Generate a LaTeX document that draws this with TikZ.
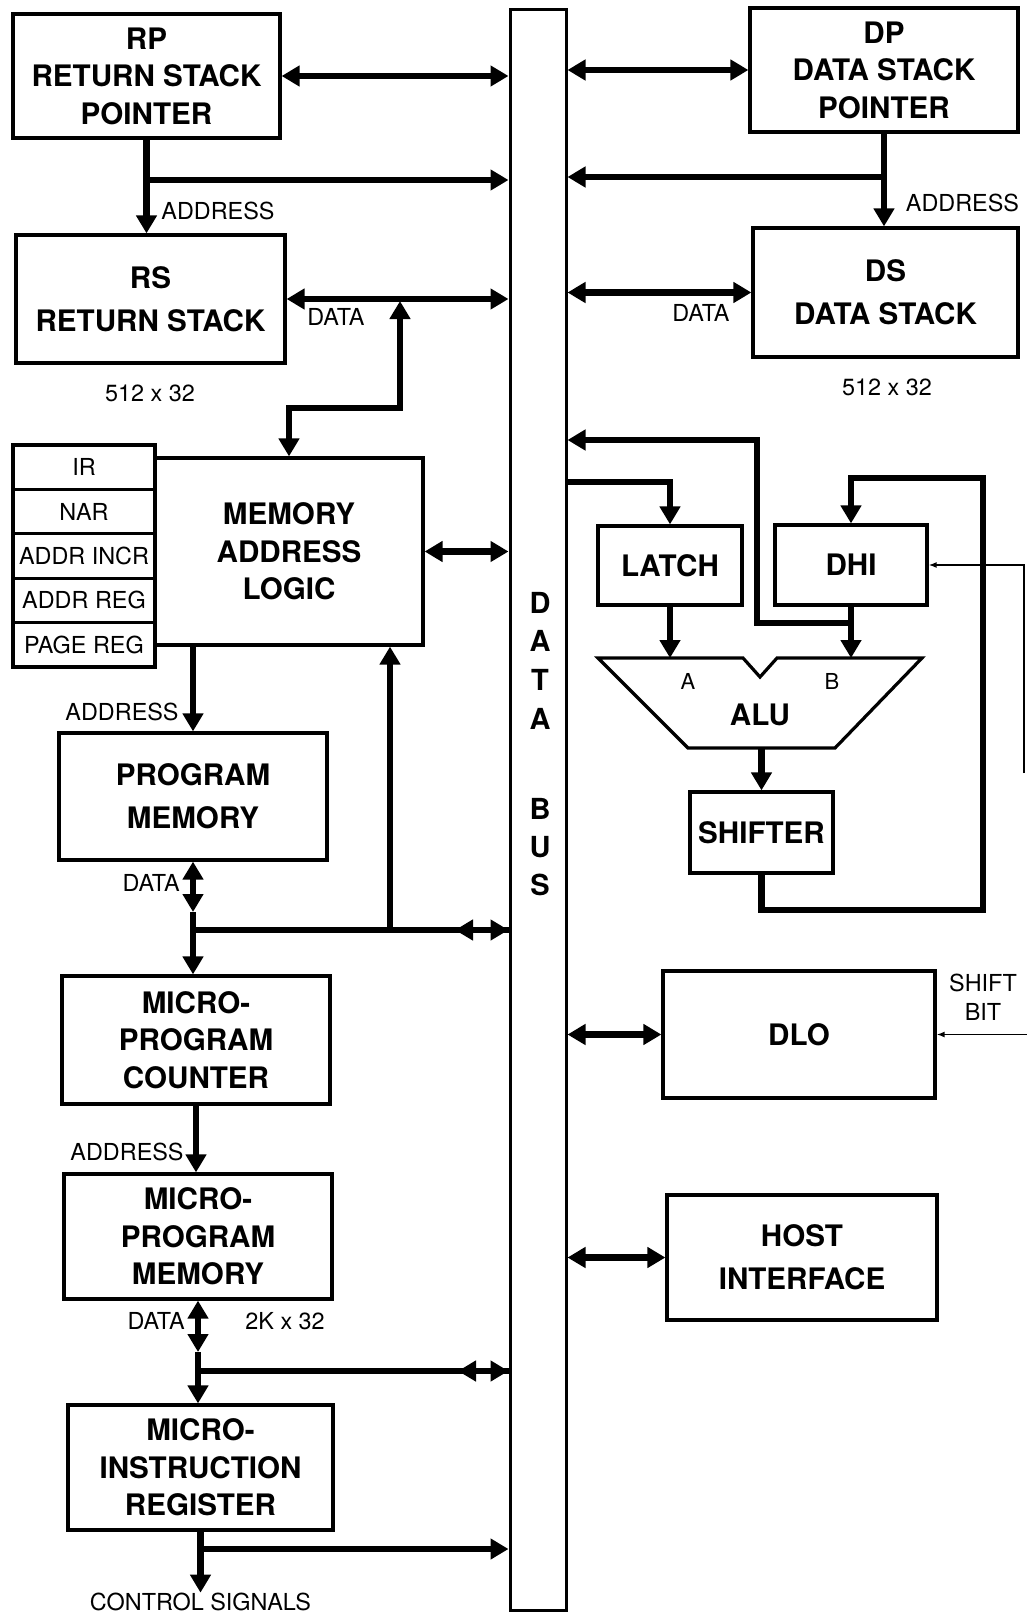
\documentclass[tikz,border=0pt]{standalone}
\usepackage{fontspec}
\setmainfont{TeX Gyre Heros}
\usetikzlibrary{arrows.meta,calc}
\begin{document}
\begin{tikzpicture}[x=0.5pt,y=-0.5pt,
  >={Triangle[length=9pt,width=10pt]},
  blk/.style={draw,line width=1.6pt,inner sep=0pt,align=center,font={\fontsize{14.8}{18.8}\selectfont\bfseries}},
  blkw/.style={blk,font={\fontsize{14.8}{21.5}\selectfont\bfseries}},
  reg/.style={draw,line width=1.6pt,inner sep=0pt,minimum width=71pt,minimum height=22.2pt,font={\fontsize{11.7}{13}\selectfont}},
  lbl/.style={inner sep=0pt,font={\fontsize{11.7}{14}\selectfont}},
  thk/.style={line width=3.2pt},
  thn/.style={line width=0.8pt,-{Latex[length=4pt,width=3pt]}},
  busletter/.style={inner sep=0pt,font={\fontsize{14.5}{16}\selectfont\bfseries}}
]
\useasboundingbox (0,0) rectangle (1027,1616);
\fill[white] (0,0) rectangle (1027,1616);

% data bus
\node[draw,line width=1.5pt,minimum width=28pt,minimum height=800pt,inner sep=0pt] (bus) at (538,810) {};
\foreach \l/\y in {D/603,A/641,T/680,A/719,B/809,U/847,S/885}
  \node[busletter] (bl\y) at (540,\y) {\l};

% boxes
\node[blk,minimum width=133.5pt,minimum height=62pt] (RP) at (146.5,76) {RP\\RETURN STACK\\POINTER};
\node[blkw,minimum width=134.5pt,minimum height=64pt] (RS) at (150.5,299) {RS\\RETURN STACK};
\node[blk,minimum width=134pt,minimum height=62pt] (DP) at (884,70) {DP\\DATA STACK\\POINTER};
\node[blkw,minimum width=132.5pt,minimum height=64.5pt] (DS) at (885.5,292.5) {DS\\DATA STACK};
\node[blk,minimum width=134pt,minimum height=93.5pt] (MAL) at (289,551.5) {MEMORY\\ADDRESS\\LOGIC};
\node[reg] (r1) at (84,467.2) {IR};
\node[reg] (r2) at (84,511.6) {NAR};
\node[reg] (r3) at (84,556) {ADDR INCR};
\node[reg] (r4) at (84,600.4) {ADDR REG};
\node[reg] (r5) at (84,644.8) {PAGE REG};
\node[blkw,minimum width=134pt,minimum height=63.5pt] (PM) at (193,796.5) {PROGRAM\\MEMORY};
\node[blk,minimum width=134pt,minimum height=64pt] (MPC) at (196,1040) {MICRO-\\PROGRAM\\COUNTER};
\node[blk,minimum width=134pt,minimum height=62.5pt] (MPM) at (198,1236.5) {MICRO-\\PROGRAM\\MEMORY};
\node[blk,minimum width=132.5pt,minimum height=62.5pt] (MIR) at (200.5,1467.5) {MICRO-\\INSTRUCTION\\REGISTER};
\node[blk,minimum width=72pt,minimum height=39.5pt] (LATCH) at (670,565.5) {LATCH};
\node[blk,minimum width=76pt,minimum height=40pt] (DHI) at (851,565) {DHI};
\node[blk,minimum width=71.5pt,minimum height=40.5pt] (SHIFTER) at (761.5,832.5) {SHIFTER};
\node[blk,minimum width=136pt,minimum height=63.5pt] (DLO) at (799,1034.5) {DLO};
\node[blkw,minimum width=135pt,minimum height=62.5pt] (HOST) at (802,1257.5) {HOST\\INTERFACE};

% ALU
\draw[line width=1.6pt] (598,658) -- (743,658) -- (760,677) -- (777,658) -- (922,658) -- (835,748) -- (688,748) -- cycle;
\node[inner sep=0pt,font={\fontsize{11}{13}\selectfont}] (la) at (688,681) {A};
\node[inner sep=0pt,font={\fontsize{11}{13}\selectfont}] (lb) at (832,681) {B};
\node[inner sep=0pt,font={\fontsize{14.8}{17}\selectfont\bfseries}] (ALU) at (760,715) {ALU};
\coordinate (aluA) at (670,658);
\coordinate (aluB) at (851,658);
\coordinate (aluO) at (761.5,748);

% labels
\node[lbl,anchor=west] (ad1) at (161,211) {ADDRESS};
\node[lbl] (da1) at (336,317) {DATA};
\node[lbl] (sz1) at (150,393) {512 x 32};
\node[lbl] (ad2) at (962.5,203) {ADDRESS};
\node[lbl] (da2) at (701,313) {DATA};
\node[lbl] (sz2) at (887,387) {512 x 32};
\node[lbl,anchor=east] (ad3) at (179,712) {ADDRESS};
\node[lbl,anchor=east] (da3) at (180,883) {DATA};
\node[lbl,anchor=east] (ad4) at (184,1152) {ADDRESS};
\node[lbl,anchor=east] (da4) at (185,1321) {DATA};
\node[lbl,anchor=west] (sz3) at (245,1321) {2K x 32};
\node[lbl] (ctrl) at (200.5,1602) {CONTROL SIGNALS};
\node[lbl,align=center,font={\fontsize{11.7}{14.5}\selectfont}] (sbit) at (983,997) {SHIFT\\BIT};

% top-left connectors
\draw[thk,<->] (RP.east) -- (bus.west |- RP.east);
\draw[thk,->] (RP.south) -- (RP.south |- RS.north);
\coordinate (rpb) at (146.5,180);
\draw[thk,->] (rpb) -- (bus.west |- rpb);
\draw[thk,<->] (RS.east) -- (bus.west |- RS.east);
\coordinate (c1) at (289,408);
\coordinate (c2) at (400,408);
\coordinate (c3) at (400,301);
\draw[thk,<->] (MAL.north) -- (c1) -- (c2) -- (c3);

% top-right connectors
\draw[thk,<->] (bus.east |- DP.west) -- (DP.west);
\draw[thk,->] (DP.south) -- (DP.south |- DS.north);
\coordinate (dpb) at (884,177);
\draw[thk,->] (dpb) -- (bus.east |- dpb);
\draw[thk,<->] (bus.east |- DS.west) -- (DS.west);

% memory address logic and program memory
\draw[thk,<->] (MAL.east) -- (bus.west |- MAL.east);
\draw[thk,->] (PM.north |- MAL.south) -- (PM.north);
\coordinate (pd) at (193,912);
\coordinate (j1) at (193,930);
\coordinate (j1a) at (455,930);
\coordinate (j1u) at (390,930);
\draw[thk,<->] (PM.south) -- (pd);
\draw[thk,->] (pd) -- (j1) -- (j1 |- MPC.north);
\draw[thk] (j1) -- (bus.west |- j1);
\draw[thk,<->] (j1a) -- (bus.west |- j1);
\draw[thk,->] (j1u) -- (j1u |- MAL.south);

% microprogram chain
\draw[thk,->] (MPC.south) -- (MPC.south |- MPM.north);
\coordinate (md) at (198,1352);
\coordinate (j2) at (198,1371);
\coordinate (j2a) at (458,1371);
\draw[thk,<->] (MPM.south) -- (md);
\draw[thk,->] (md) -- (j2) -- (j2 |- MIR.north);
\draw[thk] (j2) -- (bus.west |- j2);
\draw[thk,<->] (j2a) -- (bus.west |- j2);
\coordinate (j3) at (200.5,1549);
\draw[thk,->] (MIR.south) -- (ctrl.north);
\draw[thk,->] (j3) -- (bus.west |- j3);

% ALU section
\draw[thk,->] (LATCH.south) -- (aluA);
\draw[thk,->] (DHI.south) -- (aluB);
\draw[thk,->] (aluO) -- (SHIFTER.north);
\coordinate (l1) at (670,482);
\draw[thk,->] (bus.east |- l1) -- (l1) -- (LATCH.north);
\coordinate (b1) at (851,623);
\coordinate (b2) at (757,623);
\coordinate (b3) at (757,440);
\draw[thk,->] (b1) -- (b2) -- (b3) -- (bus.east |- b3);
\coordinate (f1) at (761.5,910);
\coordinate (f2) at (983,910);
\coordinate (f3) at (983,478);
\coordinate (f4) at (851,478);
\draw[thk,->] (SHIFTER.south) -- (f1) -- (f2) -- (f3) -- (f4) -- (DHI.north);
\coordinate (t1) at (1024,773);
\coordinate (t2) at (1024,565);
\draw[thn] (t1) -- (t2) -- (DHI.east);

% DLO and host
\draw[thk,<->] (bus.east |- DLO.west) -- (DLO.west);
\coordinate (sb) at (1027,1034.5);
\draw[thn] (sb) -- (DLO.east);
\draw[thk,<->] (bus.east |- HOST.west) -- (HOST.west);
\end{tikzpicture}
\end{document}
